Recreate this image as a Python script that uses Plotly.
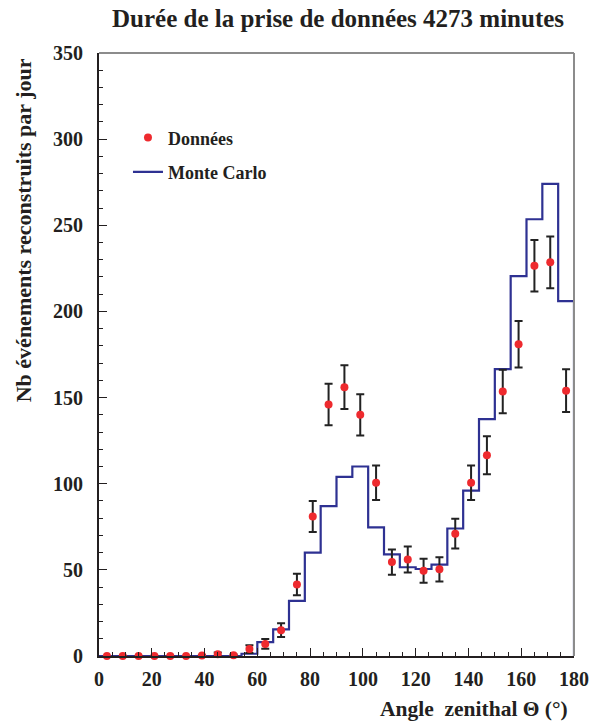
import plotly.graph_objects as go

# ---- data ----
bin_edges = [0, 6, 12, 18, 24, 30, 36, 42, 48, 54, 60, 66, 72, 78, 84, 90, 96, 102,
             108, 114, 120, 126, 132, 138, 144, 150, 156, 162, 168, 174, 180]
bin_centers = [3, 9, 15, 21, 27, 33, 39, 45, 51, 57, 63, 69, 75, 81, 87, 93, 99, 105,
               111, 117, 123, 129, 135, 141, 147, 153, 159, 165, 171, 177]
data_values = [0, 0, 0, 0, 0, 0, 0.3, 1.0, 0.4, 4, 7, 15, 41.5, 81, 146, 156, 140, 100.5,
               54.5, 56, 49.5, 50.3, 71, 100.5, 116.5, 153.5, 181, 226.5, 228.5, 154]
data_errors = [0, 0, 0, 0, 0, 0, 0.3, 1.0, 0.5, 2.3, 2.8, 4, 6.3, 9, 12, 12.7, 12, 10,
               7.3, 7.5, 7, 7, 8.6, 10, 11, 12.6, 13.5, 15, 15, 12.4]
mc_values = [0, 0, 0, 0, 0, 0, 0, 0, 0, 1.3, 8, 15.5, 32, 60, 87, 104, 110, 74.7,
             59, 51.5, 50.5, 53, 74, 96, 137.5, 166.5, 220.5, 253.5, 274, 206]

title_text = "Durée de la prise de données 4273 minutes"
x_title = "Angle  zenithal Θ (°)"
y_title = "Nb événements reconstruits par jour"

FONT = "Liberation Serif, Times New Roman, Times, serif"
RED = "#ee2a2e"
BLUE = "#2e3192"
INK = "#231f20"

# step outline of the histogram
step_x = list(bin_edges) + [bin_edges[-1]]
step_y = list(mc_values) + [mc_values[-1], 0]

fig = go.Figure()

fig.add_trace(go.Scatter(
    x=step_x, y=step_y, mode="lines", line_shape="hv",
    line=dict(color=BLUE, width=2.2), name="Monte Carlo",
    legendgroup="b", legendrank=2, cliponaxis=False,
))

fig.add_trace(go.Scatter(
    x=bin_centers, y=data_values, mode="markers", name="Données",
    marker=dict(color=RED, size=8),
    error_y=dict(type="data", array=data_errors, color="#222222", thickness=2, width=4),
    legendgroup="a", legendrank=1, cliponaxis=False,
))

fig.update_layout(
    width=591, height=722,
    margin=dict(l=99, r=17, t=53, b=66, autoexpand=False),
    paper_bgcolor="white", plot_bgcolor="white",
    font=dict(family=FONT, color=INK, size=20, weight="bold"),
    title=dict(text=title_text, x=0.572, xanchor="center", y=0.975, yanchor="middle",
               font=dict(family=FONT, size=25, weight="bold", color=INK)),
    showlegend=True,
    legend=dict(x=0.061, y=0.89, xanchor="left", yanchor="top",
                font=dict(family=FONT, size=18, weight="bold", color=INK),
                bgcolor="rgba(0,0,0,0)", tracegroupgap=8, traceorder="grouped"),
    xaxis=dict(range=[0, 180], showgrid=False, zeroline=False, automargin=False,
               showline=True, linecolor=INK, linewidth=2,
               tickmode="linear", tick0=0, dtick=20, ticks="inside", ticklen=8,
               tickwidth=1.2, tickcolor=INK, ticklabelstandoff=4,
               tickfont=dict(family=FONT, size=20, weight="bold", color=INK),
               minor=dict(dtick=5, ticks="inside", ticklen=4, tickcolor=INK, tickwidth=1)),
    yaxis=dict(range=[0, 350], showgrid=False, zeroline=False, automargin=False,
               showline=True, linecolor=INK, linewidth=2,
               tickmode="linear", tick0=0, dtick=50, ticks="inside", ticklen=8,
               tickwidth=1.2, tickcolor=INK, ticklabelstandoff=10,
               tickfont=dict(family=FONT, size=20, weight="bold", color=INK),
               minor=dict(dtick=10, ticks="inside", ticklen=4, tickcolor=INK, tickwidth=1)),
    annotations=[
        dict(text=x_title, xref="paper", yref="paper", x=0.9916, y=-0.065,
             xanchor="right", yanchor="top", showarrow=False,
             font=dict(family=FONT, size=21.5, weight="bold", color=INK)),
        dict(text=y_title, xref="paper", yref="paper", x=-0.19, y=0.995,
             xanchor="left", yanchor="top", textangle=-90, showarrow=False,
             font=dict(family=FONT, size=22, weight="bold", color=INK)),
    ],
    shapes=[
        dict(type="line", xref="paper", yref="paper", x0=0, x1=1, y0=1, y1=1,
             line=dict(color="#8c8c8c", width=2)),
        dict(type="line", xref="paper", yref="paper", x0=1, x1=1, y0=0, y1=1,
             line=dict(color="#8c8c8c", width=2)),
    ],
)

fig.write_html("out.html", config={"displayModeBar": False},
               post_script="document.body.style.margin='0';")
